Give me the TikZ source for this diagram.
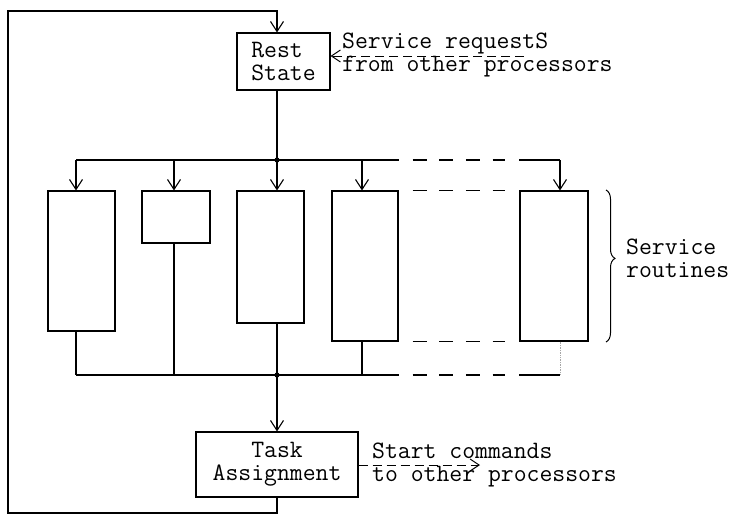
\documentclass[tikz,border=0pt]{standalone}
\usepackage{fontspec}
\usetikzlibrary{arrows.meta,decorations.pathreplacing}
\tikzset{
  ln/.style={line width=1.1pt},
  arr/.style={ln,-{Straight Barb[length=10pt,width=13pt,line width=1.1pt]}},
  boxs/.style={draw,ln,rectangle,inner sep=0pt,font=\ttfamily\fontsize{25pt}{23pt}\selectfont},
  dseg/.style={ln,dash pattern=on 14pt off 12.7pt,shorten <=14pt,shorten >=14pt},
  adash/.style={line width=1pt,dash pattern=on 9pt off 5pt,-{Straight Barb[length=9pt,width=12pt,line width=1pt]}},
  lbl/.style={font=\ttfamily\fontsize{25pt}{23pt}\selectfont,align=left,inner sep=0pt},
  faint/.style={line width=0.7pt,gray!70,densely dotted}
}
\begin{document}
\begin{tikzpicture}[x=1pt,y=-1pt]
\useasboundingbox (0,0) rectangle (734,528);
% main boxes
\node[boxs,minimum width=93pt,minimum height=57pt,align=left] (rest) at (283.5,61.5) {Rest\\State};
\node[boxs,minimum width=162pt,minimum height=65pt,align=center] (task) at (277,464.5) {Task\\Assignment};
% service routine boxes
\node[boxs,minimum width=67pt,minimum height=140pt] (b1) at (81.5,261) {};
\node[boxs,minimum width=68pt,minimum height=52pt] (b2) at (176,217) {};
\node[boxs,minimum width=67pt,minimum height=132pt] (b3) at (270.5,257) {};
\node[boxs,minimum width=66pt,minimum height=150pt] (b4) at (365,266) {};
\node[boxs,minimum width=68pt,minimum height=150pt] (b5) at (554,266) {};
% coordinates
\coordinate (tl) at (8,11);
\coordinate (bl) at (8,513);
\coordinate (j1) at (277,160);
\coordinate (j2) at (277,375);
\coordinate (a1) at (76,160);
\coordinate (a2) at (174,160);
\coordinate (a3) at (277,160);
\coordinate (a4) at (362,160);
\coordinate (a5) at (560,160);
% feedback loop
\draw[arr] (task.south -| j1) -- (j1 |- bl) -- (bl) -- (tl) -- (j1 |- tl) -- (j1 |- rest.north);
\draw[ln] (j1 |- rest.south) -- (j1);
% distribution line
\draw[ln] (a1) -- (a4 -| b4.east);
\draw[dseg] (a4 -| b4.east) -- (a5 -| b5.west);
\draw[ln] (a5 -| b5.west) -- (a5);
\foreach \i in {1,...,5}{\draw[arr] (a\i) -- (a\i |- b\i.north);}
\draw[dseg] (b4.north east) -- (b5.north west);
\draw[dseg] (b4.south east) -- (b5.south west);
% collection line
\foreach \i in {1,...,4}{\draw[ln] (a\i |- b\i.south) -- (a\i |- j2);}
\draw[faint] (a5 |- b5.south) -- (a5 |- j2);
\draw[ln] (a1 |- j2) -- (b4.east |- j2);
\draw[dseg] (b4.east |- j2) -- (b5.west |- j2);
\draw[ln] (b5.west |- j2) -- (a5 |- j2);
\draw[arr] (j2) -- (task.north -| j2);
\fill (j1) circle (2.6pt);
\fill (j2) circle (2.6pt);
% brace
\coordinate (br1) at (606,190);
\coordinate (br2) at (606,342);
\draw[line width=1pt,decorate,decoration={brace,amplitude=9pt,aspect=0.45}] (br1) -- (br2);
\node[lbl,anchor=west] (sr) at (626,258) {Service\\routines};
% service requests
\coordinate (rq) at (524,56);
\node[lbl,anchor=west] (req) at (342,55) {Service requestS\\from other processors};
\draw[adash] (rq) -- (rest.east |- rq);
% start commands
\coordinate (scend) at (480,465);
\node[lbl,anchor=west] (sc) at (372,465) {Start commands\\to other processors};
\draw[adash] (task.east |- scend) -- (scend);
\end{tikzpicture}
\end{document}
